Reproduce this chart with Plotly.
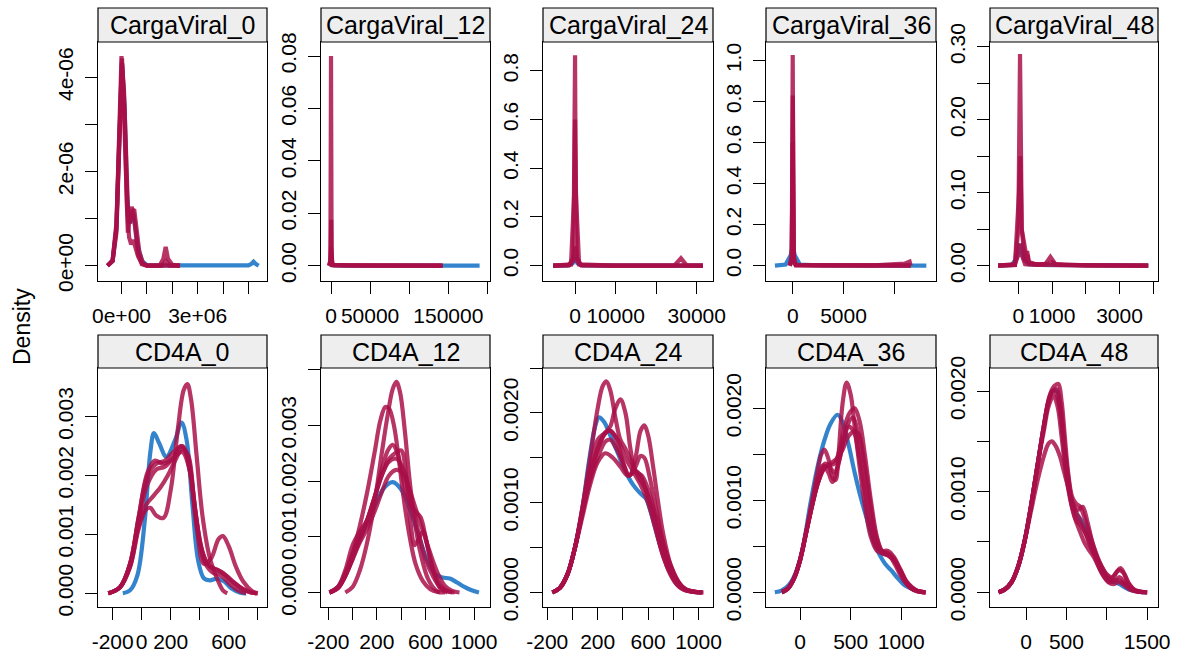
import plotly.graph_objects as go

W, H = 1178, 655

# ---------------- panel titles ----------------
panel_names = ["CargaViral_0", "CargaViral_12", "CargaViral_24", "CargaViral_36", "CargaViral_48",
               "CD4A_0", "CD4A_12", "CD4A_24", "CD4A_36", "CD4A_48"]

# ---------------- CargaViral_0 ----------------
cv0_obs_x = [-0.55e6, -0.35e6, -0.2e6, -0.1e6, 0.02e6, 0.12e6, 0.22e6, 0.32e6, 0.42e6, 0.52e6, 0.65e6, 0.8e6,
             1.0e6, 1.5e6, 2.0e6, 3.0e6, 4.0e6, 5.0e6, 5.12e6, 5.2e6, 5.28e6, 5.4e6]
cv0_obs_y = [0, 0.1e-6, 0.8e-6, 2.7e-6, 4.3e-6, 3.4e-6, 1.5e-6, 0.9e-6, 1.1e-6, 0.9e-6, 0.4e-6, 0.1e-6,
             0.01e-6, 0.005e-6, 0.005e-6, 0.005e-6, 0.005e-6, 0.005e-6, 0.04e-6, 0.085e-6, 0.04e-6, 0]
cv0_imp_x = [
    [-0.55e6, -0.35e6, -0.2e6, -0.1e6, 0.0, 0.08e6, 0.16e6, 0.25e6, 0.32e6, 0.4e6, 0.48e6, 0.56e6, 0.65e6, 0.8e6,
     1.0e6, 1.5e6, 1.65e6, 1.74e6, 1.83e6, 2.0e6, 2.3e6],
    [-0.55e6, -0.35e6, -0.2e6, -0.1e6, 0.02e6, 0.1e6, 0.18e6, 0.26e6, 0.34e6, 0.42e6, 0.5e6, 0.6e6, 0.7e6, 0.85e6,
     1.0e6, 1.6e6, 1.75e6, 1.9e6, 2.3e6],
    [-0.55e6, -0.35e6, -0.2e6, -0.08e6, 0.02e6, 0.12e6, 0.22e6, 0.3e6, 0.38e6, 0.46e6, 0.55e6, 0.65e6, 0.8e6,
     1.0e6, 2.3e6],
]
cv0_imp_y = [
    [0, 0.1e-6, 0.8e-6, 2.8e-6, 4.45e-6, 3.6e-6, 1.8e-6, 0.7e-6, 1.0e-6, 1.25e-6, 1.1e-6, 0.6e-6, 0.25e-6,
     0.03e-6, 0, 0, 0.15e-6, 0.4e-6, 0.15e-6, 0.02e-6, 0],
    [0, 0.1e-6, 0.7e-6, 2.5e-6, 4.3e-6, 3.7e-6, 2.0e-6, 1.1e-6, 0.9e-6, 1.15e-6, 1.2e-6, 0.7e-6, 0.3e-6,
     0.05e-6, 0, 0, 0.1e-6, 0, 0],
    [0, 0.12e-6, 0.9e-6, 3.0e-6, 4.4e-6, 3.2e-6, 1.2e-6, 0.6e-6, 0.45e-6, 0.55e-6, 0.4e-6, 0.2e-6, 0.05e-6, 0, 0],
]

# ---------------- CargaViral_12 ----------------
cv12_obs_x = [-2500, -1200, -500, 0, 500, 1500, 4000, 20000, 60000, 100000, 140000, 170000, 190000]
cv12_obs_y = [0, 0.0003, 0.002, 0.004, 0.002, 0.0003, 0.0001, 0.00005, 0.00002, 0.00002, 0.00002, 0.00001, 0]
cv12_imp_x = [
    [-2500, -800, -300, 0, 300, 800, 2500, 20000, 60000, 100000, 143000],
    [-2500, -800, -300, 200, 600, 1200, 3000, 30000, 80000, 143000],
    [-2500, -600, 0, 600, 2000, 50000, 140000],
]
cv12_imp_y = [
    [0, 0.002, 0.05, 0.08, 0.05, 0.002, 0.0003, 0.0001, 0.00005, 0.00002, 0],
    [0, 0.0005, 0.006, 0.0175, 0.006, 0.0005, 0.0002, 0.0001, 0.00003, 0],
    [0, 0.002, 0.007, 0.002, 0.0002, 0.00003, 0],
]

# ---------------- CargaViral_24 ----------------
cv24_obs_x = [-5400, -2000, -600, 0, 600, 2000, 8000, 16000, 24000, 26000, 28000, 31500]
cv24_obs_y = [0, 0.001, 0.01, 0.03, 0.01, 0.001, 0.0005, 0.0005, 0.0005, 0.002, 0.0005, 0]
cv24_imp_x = [
    [-5400, -1500, -400, -100, 0, 100, 400, 1500, 8000, 16000, 24000, 31500],
    [-5400, -1500, -500, 0, 500, 1500, 8000, 16000, 24500, 26100, 27500, 31500],
    [-5400, -1000, -200, 0, 200, 1000, 10000, 20000, 31500],
]
cv24_imp_y = [
    [0, 0.001, 0.02, 0.5, 0.864, 0.5, 0.02, 0.001, 0.0005, 0.0005, 0.0005, 0],
    [0, 0.002, 0.03, 0.078, 0.03, 0.002, 0.0005, 0.0005, 0.001, 0.03, 0.001, 0],
    [0, 0.005, 0.3, 0.6, 0.3, 0.005, 0.0005, 0.0005, 0],
]

# ---------------- CargaViral_36 ----------------
cv36_obs_x = [-1750, -700, -200, 0, 200, 700, 3000, 6000, 9000, 12000, 13150]
cv36_obs_y = [0, 0.005, 0.05, 0.1, 0.05, 0.005, 0.0005, 0.0005, 0.0005, 0.003, 0]
cv36_imp_x = [
    [-300, -100, -40, 0, 40, 100, 300, 2000, 5000, 8000, 11000, 11500, 11600],
    [-300, -100, -40, 10, 60, 120, 300, 3000, 7000, 11000, 11600],
    [-300, -100, 0, 100, 300, 3000, 8000, 11600],
]
cv36_imp_y = [
    [0, 0.02, 0.6, 1.028, 0.6, 0.02, 0.002, 0.001, 0.001, 0.001, 0.01, 0.02, 0],
    [0, 0.02, 0.4, 0.83, 0.4, 0.02, 0.002, 0.001, 0.001, 0.005, 0],
    [0, 0.05, 0.6, 0.05, 0.002, 0.001, 0.001, 0],
]

# ---------------- CargaViral_48 ----------------
cv48_obs_x = [-600, -200, -50, 50, 150, 300, 600, 1000, 1500, 2000, 2500, 3000, 3500, 3850]
cv48_obs_y = [0, 0.001, 0.01, 0.03, 0.01, 0.002, 0.001, 0.001, 0.0005, 0.0005, 0.0005, 0.0005, 0.0003, 0]
cv48_imp_x = [
    [-600, -100, 0, 30, 50, 70, 100, 200, 260, 320, 500, 800, 950, 1100, 1300, 2000, 3000, 3850],
    [-600, -100, 0, 50, 100, 200, 500, 900, 1000, 1100, 2000, 3000, 3850],
    [-600, -100, 20, 60, 100, 250, 270, 300, 600, 1200, 2500, 3850],
]
cv48_imp_y = [
    [0, 0.001, 0.05, 0.2, 0.29, 0.2, 0.05, 0.005, 0.02, 0.004, 0.002, 0.002, 0.012, 0.002, 0.001, 0.0005, 0.0005, 0],
    [0, 0.002, 0.015, 0.03, 0.015, 0.002, 0.001, 0.003, 0.005, 0.002, 0.0005, 0.0005, 0],
    [0, 0.001, 0.1, 0.15, 0.05, 0.01, 0.015, 0.005, 0.001, 0.0005, 0.0005, 0],
]

# ---------------- CD4A_0 ----------------
cd0_obs_x = [-130, -80, -30, 20, 60, 85, 120, 170, 230, 275, 310, 350, 390, 430, 470, 520, 570, 620, 680, 720]
cd0_obs_y = [0, 0.00005, 0.0003, 0.0012, 0.0024, 0.00272, 0.00255, 0.00232, 0.0026, 0.0029, 0.0026, 0.0015,
             0.00055, 0.00025, 0.00022, 0.00025, 0.0002, 0.00008, 0.00001, 0]
cd0_imp_x = [
    [-230, -150, -80, -20, 30, 60, 100, 150, 200, 250, 290, 315, 340, 380, 420, 470, 520, 560, 590],
    [-230, -150, -80, -20, 40, 100, 160, 220, 280, 330, 380, 430, 480, 530, 560, 600, 650, 700, 760, 800],
    [-230, -150, -80, -20, 40, 90, 150, 220, 270, 320, 370, 420, 470, 520, 580, 640, 700, 760, 800],
    [-230, -150, -80, -20, 30, 80, 130, 180, 230, 280, 320, 360, 400, 450, 500, 560, 620, 680, 740, 790],
    [-230, -150, -80, -20, 40, 100, 160, 220, 280, 330, 380, 430, 490, 550, 610, 670, 720],
]
cd0_imp_y = [
    [0, 0.0001, 0.00045, 0.0011, 0.00142, 0.00145, 0.00132, 0.00128, 0.00175, 0.0028, 0.00345, 0.00355, 0.0033,
     0.0023, 0.0013, 0.0006, 0.00025, 0.00005, 0],
    [0, 0.0001, 0.0005, 0.0013, 0.002, 0.0022, 0.00225, 0.0024, 0.0025, 0.0021, 0.0011, 0.0005, 0.0006, 0.00092,
     0.00097, 0.0008, 0.00045, 0.0002, 0.00004, 0],
    [0, 0.0001, 0.0005, 0.0013, 0.00205, 0.00225, 0.0022, 0.0023, 0.0025, 0.0023, 0.0014, 0.0007, 0.00045, 0.0004,
     0.0003, 0.00017, 0.00007, 0.00001, 0],
    [0, 0.0001, 0.00045, 0.00115, 0.0015, 0.00165, 0.0018, 0.002, 0.00225, 0.00245, 0.00235, 0.0016, 0.0009,
     0.0005, 0.00042, 0.00035, 0.00022, 0.0001, 0.00002, 0],
    [0, 0.0001, 0.0005, 0.00125, 0.00185, 0.0021, 0.00215, 0.0023, 0.0024, 0.0021, 0.0012, 0.00055, 0.00035,
     0.0003, 0.00015, 0.00004, 0],
]

# ---------------- CD4A_12 ----------------
cd12_obs_x = [-190, -120, -50, 20, 100, 180, 260, 330, 400, 470, 540, 610, 680, 740, 800, 860, 920, 980, 1040]
cd12_obs_y = [0, 0.0001, 0.00035, 0.00075, 0.00115, 0.00155, 0.00188, 0.00198, 0.00185, 0.0015, 0.00105, 0.0006,
              0.00033, 0.00027, 0.00025, 0.00018, 0.0001, 0.00004, 0]
cd12_imp_x = [
    [-60, 0, 60, 120, 180, 240, 290, 330, 360, 390, 430, 470, 510, 560, 620, 680, 720],
    [-190, -120, -60, 0, 60, 120, 180, 230, 270, 300, 340, 380, 420, 470, 520, 580, 640, 700, 760],
    [-190, -120, -60, 0, 60, 120, 180, 240, 290, 330, 370, 420, 470, 520, 560, 600, 650, 700, 760, 820],
    [-190, -120, -60, 0, 60, 120, 180, 240, 300, 350, 400, 440, 480, 510, 540, 580, 620, 670, 720, 780],
    [-190, -120, -60, 0, 60, 120, 180, 240, 300, 360, 420, 480, 540, 600, 660, 720, 780, 840],
    [-190, -120, -60, 0, 60, 120, 180, 240, 300, 360, 410, 460, 520, 580, 640, 700, 760, 820, 880],
]
cd12_imp_y = [
    [0, 0.0001, 0.0004, 0.0009, 0.0016, 0.0025, 0.0032, 0.00365, 0.00378, 0.0036, 0.0029, 0.002, 0.0013, 0.0007,
     0.00025, 0.00005, 0],
    [0, 0.00008, 0.0003, 0.0007, 0.0012, 0.0018, 0.0025, 0.0031, 0.00333, 0.0033, 0.003, 0.0024, 0.0017, 0.001,
     0.0005, 0.0002, 0.00006, 0.00001, 0],
    [0, 0.0001, 0.0004, 0.00085, 0.0011, 0.0013, 0.0017, 0.0022, 0.00255, 0.00265, 0.0025, 0.002, 0.0016, 0.00145,
     0.00135, 0.001, 0.0005, 0.0002, 0.00005, 0],
    [0, 0.00008, 0.0003, 0.0006, 0.00095, 0.0013, 0.0017, 0.0021, 0.0024, 0.0025, 0.00255, 0.0021, 0.0012, 0.00085,
     0.00095, 0.0011, 0.0008, 0.00035, 0.00008, 0],
    [0, 0.0001, 0.00035, 0.0007, 0.001, 0.0013, 0.0017, 0.0021, 0.00235, 0.0024, 0.0022, 0.0017, 0.0011, 0.0006,
     0.0003, 0.0001, 0.00002, 0],
    [0, 0.00008, 0.0003, 0.0006, 0.0009, 0.00115, 0.00145, 0.0018, 0.0021, 0.0022, 0.00215, 0.0019, 0.0015, 0.0011,
     0.0007, 0.00035, 0.00012, 0.00003, 0],
]

# ---------------- CD4A_24 ----------------
cd24_obs_x = [-160, -100, -40, 20, 80, 130, 180, 210, 250, 300, 360, 420, 480, 540, 580, 620, 680, 740, 800, 870,
              940, 1000, 1030]
cd24_obs_y = [0, 0.00005, 0.0002, 0.0005, 0.00095, 0.00145, 0.00185, 0.00195, 0.0019, 0.00175, 0.00155, 0.00135,
              0.0012, 0.0011, 0.00105, 0.0009, 0.0006, 0.00035, 0.00017, 0.00006, 0.00001, 0, 0]
cd24_imp_x = [
    [-160, -100, -40, 20, 80, 140, 200, 240, 270, 300, 340, 380, 420, 470, 520, 580, 640, 700, 760, 820, 880, 940,
     1000, 1040],
    [-160, -100, -40, 20, 80, 140, 200, 260, 300, 340, 380, 420, 460, 500, 550, 600, 660, 720, 780, 840, 900, 960,
     1020],
    [-160, -100, -40, 20, 80, 140, 200, 260, 300, 350, 400, 450, 500, 540, 570, 600, 640, 680, 720, 780, 840, 900,
     960, 1030],
    [-160, -100, -40, 20, 80, 140, 200, 260, 300, 350, 400, 450, 500, 540, 570, 610, 660, 720, 780, 840, 900, 960,
     1030],
    [-160, -100, -40, 20, 80, 140, 200, 260, 320, 380, 440, 500, 540, 580, 640, 700, 760, 820, 880, 940, 1000],
    [-160, -100, -40, 20, 80, 140, 200, 260, 300, 360, 420, 480, 540, 600, 660, 720, 780, 840, 900, 960, 1030],
]
cd24_imp_y = [
    [0, 0.00005, 0.0002, 0.0005, 0.00095, 0.0015, 0.00205, 0.0023, 0.00235, 0.00225, 0.00195, 0.0017, 0.0016,
     0.00145, 0.0013, 0.00115, 0.0009, 0.0006, 0.00035, 0.00015, 0.00005, 0.00001, 0, 0],
    [0, 0.00005, 0.0002, 0.0005, 0.00095, 0.0014, 0.0017, 0.00178, 0.00185, 0.00205, 0.00215, 0.002, 0.0016,
     0.00135, 0.0013, 0.00115, 0.00085, 0.00055, 0.0003, 0.00012, 0.00003, 0.00001, 0],
    [0, 0.00005, 0.0002, 0.0005, 0.0009, 0.0013, 0.0016, 0.00178, 0.0018, 0.0017, 0.00145, 0.0013, 0.0015,
     0.0018, 0.00186, 0.00175, 0.0014, 0.001, 0.00065, 0.0003, 0.00012, 0.00003, 0.00001, 0],
    [0, 0.00005, 0.0002, 0.0005, 0.0009, 0.00125, 0.0015, 0.00168, 0.0017, 0.0016, 0.00145, 0.0013, 0.0014,
     0.00152, 0.0015, 0.0013, 0.00095, 0.00055, 0.00025, 0.0001, 0.00003, 0.00001, 0],
    [0, 0.00005, 0.0002, 0.0005, 0.00085, 0.0012, 0.00145, 0.00155, 0.0015, 0.0014, 0.0013, 0.00135, 0.0013,
     0.00115, 0.00085, 0.0005, 0.00025, 0.0001, 0.00003, 0.00001, 0],
    [0, 0.00005, 0.0002, 0.0005, 0.0009, 0.0013, 0.0016, 0.00177, 0.0018, 0.0017, 0.0015, 0.00135, 0.0012, 0.001,
     0.0007, 0.0004, 0.0002, 0.00007, 0.00002, 0.00001, 0],
]

# ---------------- CD4A_36 ----------------
cd36_obs_x = [-250, -180, -110, -40, 30, 100, 170, 240, 300, 370, 420, 480, 540, 600, 660, 720, 780, 840, 900,
              960, 1020, 1080, 1140, 1200, 1240]
cd36_obs_y = [0, 0.00002, 0.00008, 0.00022, 0.0005, 0.00095, 0.00135, 0.00165, 0.00183, 0.00193, 0.00185, 0.0016,
              0.0013, 0.00103, 0.0008, 0.00057, 0.00042, 0.00031, 0.00024, 0.00016, 0.00009, 0.00005, 0.00002,
              0.000005, 0]
cd36_imp_x = [
    [-180, -120, -60, 0, 60, 120, 170, 210, 240, 280, 320, 350, 380, 420, 460, 500, 540, 590, 640, 700, 760, 820,
     880, 940, 1000, 1060, 1120, 1180, 1240],
    [-180, -120, -60, 0, 60, 120, 180, 240, 290, 340, 390, 440, 490, 540, 590, 640, 700, 760, 820, 880, 940, 1000,
     1060, 1120, 1180, 1240],
    [-180, -120, -60, 0, 60, 120, 180, 250, 300, 340, 390, 440, 480, 530, 580, 630, 690, 750, 810, 870, 930, 990,
     1050, 1110, 1170, 1240],
    [-180, -120, -60, 0, 60, 120, 180, 240, 300, 360, 420, 480, 540, 580, 630, 690, 750, 810, 870, 930, 990, 1050,
     1110, 1170, 1240],
    [-180, -120, -60, 0, 60, 120, 180, 230, 280, 320, 370, 420, 470, 520, 570, 620, 680, 740, 800, 860, 920, 980,
     1040, 1100, 1160, 1240],
]
cd36_imp_y = [
    [0, 0.00004, 0.00015, 0.00035, 0.00065, 0.001, 0.0013, 0.0015, 0.00155, 0.00145, 0.00125, 0.00122, 0.0015,
     0.00205, 0.00228, 0.00215, 0.0018, 0.00135, 0.00095, 0.0006, 0.00045, 0.00042, 0.0004, 0.0003, 0.00017,
     0.00008, 0.00003, 0.00001, 0],
    [0, 0.00004, 0.00015, 0.00035, 0.00065, 0.00095, 0.0012, 0.00135, 0.00138, 0.0014, 0.00155, 0.0018, 0.00195,
     0.002, 0.00185, 0.0015, 0.001, 0.0006, 0.00042, 0.0004, 0.00033, 0.0002, 0.00009, 0.00003, 0.00001, 0],
    [0, 0.00004, 0.00015, 0.00035, 0.00065, 0.00095, 0.0012, 0.0014, 0.00135, 0.0013, 0.00145, 0.0017, 0.0018,
     0.00175, 0.0015, 0.00115, 0.00075, 0.0005, 0.00045, 0.00045, 0.00038, 0.00025, 0.00012, 0.00005, 0.00001, 0],
    [0, 0.00004, 0.00015, 0.00035, 0.00065, 0.00095, 0.0012, 0.00135, 0.0014, 0.00145, 0.00155, 0.0017, 0.00175,
     0.00172, 0.00145, 0.001, 0.00062, 0.00045, 0.0004, 0.00035, 0.00025, 0.00012, 0.00005, 0.00001, 0],
    [0, 0.00004, 0.00015, 0.00035, 0.00065, 0.00095, 0.00125, 0.00138, 0.0013, 0.0012, 0.00135, 0.0016, 0.00182,
     0.0019, 0.00175, 0.0014, 0.00095, 0.0006, 0.00045, 0.00043, 0.00038, 0.00025, 0.00012, 0.00004, 0.00001, 0],
]

# ---------------- CD4A_48 ----------------
cd48_obs_x = [-340, -260, -180, -100, -20, 60, 140, 220, 280, 330, 380, 420, 460, 510, 560, 620, 680, 740, 800, 860,
              920, 980, 1040, 1100, 1160, 1220, 1300, 1400, 1490]
cd48_obs_y = [0, 0.00003, 0.0001, 0.00025, 0.0005, 0.00085, 0.00125, 0.00165, 0.0019, 0.002, 0.002, 0.00185,
              0.0015, 0.00115, 0.0009, 0.00078, 0.00072, 0.00062, 0.0005, 0.00038, 0.00026, 0.00017, 0.00012,
              0.0001, 0.00008, 0.00005, 0.00002, 0.000005, 0]
cd48_imp_x = [
    [-340, -260, -180, -100, -20, 60, 140, 220, 290, 350, 400, 440, 480, 520, 570, 620, 670, 720, 780, 840, 900, 960,
     1020, 1080, 1140, 1200, 1260, 1330, 1420, 1500],
    [-340, -260, -180, -100, -20, 60, 140, 220, 280, 320, 370, 420, 470, 520, 570, 620, 670, 720, 780, 840, 900, 960,
     1020, 1080, 1140, 1200, 1260, 1330, 1420, 1500],
    [-340, -260, -180, -100, -20, 60, 140, 220, 280, 330, 370, 420, 470, 520, 570, 620, 680, 740, 800, 860, 920, 980,
     1040, 1100, 1160, 1220, 1300, 1400],
    [-340, -260, -180, -100, -20, 60, 140, 220, 280, 330, 380, 430, 480, 530, 580, 640, 700, 760, 820, 880, 940, 1000,
     1060, 1120, 1170, 1220, 1280, 1350, 1430, 1500],
    [-340, -260, -180, -100, -20, 60, 140, 220, 280, 340, 390, 440, 490, 540, 600, 660, 720, 780, 840, 900, 960, 1020,
     1080, 1140, 1200, 1280, 1360, 1450],
]
cd48_imp_y = [
    [0, 0.00003, 0.0001, 0.00025, 0.0005, 0.00085, 0.00125, 0.00165, 0.00195, 0.00205, 0.00207, 0.0019, 0.00155,
     0.0012, 0.00095, 0.00088, 0.00085, 0.00075, 0.0006, 0.00045, 0.00032, 0.00022, 0.00015, 0.00015, 0.00022,
     0.0002, 0.0001, 0.00003, 0.000005, 0],
    [0, 0.00003, 0.0001, 0.00025, 0.0005, 0.0008, 0.0011, 0.00135, 0.00148, 0.0015, 0.00145, 0.00135, 0.0012,
     0.00105, 0.0009, 0.0008, 0.00072, 0.00062, 0.0005, 0.0004, 0.0003, 0.0002, 0.00014, 0.00012, 0.00012, 0.0001,
     0.00006, 0.00002, 0.000005, 0],
    [0, 0.00003, 0.0001, 0.00025, 0.0005, 0.00085, 0.00125, 0.00165, 0.0019, 0.002, 0.00198, 0.0018, 0.00145,
     0.0011, 0.00085, 0.00072, 0.00066, 0.00058, 0.00045, 0.00034, 0.00022, 0.00014, 0.0001, 0.00012, 0.00015,
     0.0001, 0.00003, 0],
    [0, 0.00003, 0.0001, 0.00025, 0.0005, 0.00085, 0.00125, 0.00165, 0.0019, 0.002, 0.00202, 0.00185, 0.00145,
     0.0011, 0.00088, 0.00082, 0.00085, 0.0007, 0.0005, 0.00035, 0.00025, 0.00018, 0.00015, 0.0002, 0.00024,
     0.00018, 0.00008, 0.00002, 0.000005, 0],
    [0, 0.00003, 0.0001, 0.00025, 0.0005, 0.00085, 0.00125, 0.0016, 0.00185, 0.00195, 0.00185, 0.00155, 0.0012,
     0.00095, 0.00075, 0.00062, 0.0005, 0.00042, 0.00035, 0.00025, 0.00016, 0.0001, 0.00008, 0.0001, 0.00008,
     0.00003, 0.00001, 0],
]

# ---------------- tick values / labels ----------------
x_tickvals = [
    [0, 1e6, 2e6, 3e6, 4e6, 5e6],
    [0, 50000, 100000, 150000, 200000],
    [0, 10000, 20000, 30000],
    [0, 5000, 10000],
    [0, 1000, 2000, 3000, 4000],
    [-200, 0, 200, 400, 600, 800],
    [-200, 0, 200, 400, 600, 800, 1000],
    [-200, 0, 200, 400, 600, 800, 1000],
    [0, 500, 1000],
    [0, 500, 1000, 1500],
]
x_ticktext = [
    ["0e+00", "", "", "3e+06", "", ""],
    ["0", "50000", "", "150000", ""],
    ["0", "10000", "", "30000"],
    ["0", "5000", ""],
    ["0", "1000", "", "3000", ""],
    ["-200", "0", "200", "", "600", ""],
    ["-200", "", "200", "", "600", "", "1000"],
    ["-200", "", "200", "", "600", "", "1000"],
    ["0", "500", "1000"],
    ["0", "500", "", "1500"],
]
y_tickvals = [
    [0, 1e-6, 2e-6, 3e-6, 4e-6],
    [0, 0.02, 0.04, 0.06, 0.08],
    [0, 0.2, 0.4, 0.6, 0.8],
    [0, 0.2, 0.4, 0.6, 0.8, 1.0],
    [0, 0.05, 0.10, 0.15, 0.20, 0.25, 0.30],
    [0, 0.001, 0.002, 0.003],
    [0, 0.001, 0.002, 0.003, 0.004],
    [0, 0.0005, 0.001, 0.0015, 0.002, 0.0025],
    [0, 0.0005, 0.001, 0.0015, 0.002],
    [0, 0.0005, 0.001, 0.0015, 0.002],
]
y_ticktext = [
    ["0e+00", "", "2e-06", "", "4e-06"],
    ["0.00", "0.02", "0.04", "0.06", "0.08"],
    ["0.0", "0.2", "0.4", "0.6", "0.8"],
    ["0.0", "0.2", "0.4", "0.6", "0.8", "1.0"],
    ["0.00", "", "0.10", "", "0.20", "", "0.30"],
    ["0.000", "0.001", "0.002", "0.003"],
    ["0.000", "0.001", "0.002", "0.003", ""],
    ["0.0000", "", "0.0010", "", "0.0020", ""],
    ["0.0000", "", "0.0010", "", "0.0020"],
    ["0.0000", "", "0.0010", "", "0.0020"],
]

# ---------------- assemble ----------------
obs_x = [cv0_obs_x, cv12_obs_x, cv24_obs_x, cv36_obs_x, cv48_obs_x, cd0_obs_x, cd12_obs_x, cd24_obs_x, cd36_obs_x, cd48_obs_x]
obs_y = [cv0_obs_y, cv12_obs_y, cv24_obs_y, cv36_obs_y, cv48_obs_y, cd0_obs_y, cd12_obs_y, cd24_obs_y, cd36_obs_y, cd48_obs_y]
imp_x = [cv0_imp_x, cv12_imp_x, cv24_imp_x, cv36_imp_x, cv48_imp_x, cd0_imp_x, cd12_imp_x, cd24_imp_x, cd36_imp_x, cd48_imp_x]
imp_y = [cv0_imp_y, cv12_imp_y, cv24_imp_y, cv36_imp_y, cv48_imp_y, cd0_imp_y, cd12_imp_y, cd24_imp_y, cd36_imp_y, cd48_imp_y]

# layout geometry (pixels)
col_px = [(98, 267), (321, 490), (543, 713), (766, 936), (990, 1158)]
row_px = [(42, 281), (368, 607)]       # plot area top/bottom
strip_px = [(8, 42), (335, 368)]       # strip top/bottom

x_ranges = [(-0.925e6, 5.73e6), (-12800, 203300), (-7900, 34000), (-2630, 14100), (-840, 4140),
            (-301, 864), (-260, 1131), (-234, 1115), (-337, 1344), (-446, 1634)]
y_ranges = [(-0.325e-6, 4.749e-6), (-0.00584, 0.08535), (-0.063, 0.918), (-0.075, 1.091), (-0.021, 0.3064),
            (-0.000233, 0.003825), (-0.00026, 0.00403), (-0.000163, 0.0025), (-0.00016, 0.002438),
            (-0.000146, 0.002229)]

BLUE = "rgba(0,100,192,0.8)"
RED = "rgba(168,14,72,0.84)"
FONT = "Liberation Sans, Arial, Helvetica, sans-serif"
LW = 4.2

fig = go.Figure()
layout = dict(
    width=W, height=H, margin=dict(l=0, r=0, t=0, b=0, pad=0), autosize=False,
    paper_bgcolor="white", plot_bgcolor="white", showlegend=False,
    font=dict(family=FONT, color="black"),
)
shapes, annotations = [], []

for i in range(10):
    r, c = divmod(i, 5)
    n = i + 1
    xa = "x" if n == 1 else f"x{n}"
    ya = "y" if n == 1 else f"y{n}"
    x0, x1 = col_px[c]
    t, b = row_px[r]
    shape = "linear" if r == 0 else "spline"
    fig.add_trace(go.Scatter(x=obs_x[i], y=obs_y[i], mode="lines", xaxis=xa, yaxis=ya,
                             line=dict(color=BLUE, width=LW, shape=shape), hoverinfo="skip"))
    for xs, ys in zip(imp_x[i], imp_y[i]):
        fig.add_trace(go.Scatter(x=xs, y=ys, mode="lines", xaxis=xa, yaxis=ya,
                                 line=dict(color=RED, width=LW, shape=shape), hoverinfo="skip"))
    common = dict(showline=True, mirror=True, linecolor="black", linewidth=1.2, showgrid=False, zeroline=False,
                  ticks="outside", ticklen=12, tickwidth=1.2, tickcolor="black", tickmode="array",
                  automargin=False, tickfont=dict(family=FONT, size=21, color="black"), fixedrange=True)
    layout["xaxis" if n == 1 else f"xaxis{n}"] = dict(
        domain=[x0 / W, x1 / W], range=list(x_ranges[i]), anchor=ya,
        tickvals=x_tickvals[i], ticktext=x_ticktext[i], ticklabelstandoff=4, **common)
    layout["yaxis" if n == 1 else f"yaxis{n}"] = dict(
        domain=[1 - b / H, 1 - t / H], range=list(y_ranges[i]), anchor=xa,
        tickvals=y_tickvals[i], ticktext=y_ticktext[i], tickangle=-90, ticklabelstandoff=4, **common)
    st, sb = strip_px[r]
    shapes.append(dict(type="rect", xref="paper", yref="paper", x0=x0 / W, x1=x1 / W,
                       y0=1 - sb / H, y1=1 - st / H, fillcolor="#EEEEEE",
                       line=dict(color="black", width=1.2), layer="above"))
    annotations.append(dict(text=panel_names[i], xref="paper", yref="paper", x=(x0 + x1) / 2 / W,
                            y=1 - (st + sb) / 2 / H, xanchor="center", yanchor="middle", showarrow=False,
                            font=dict(family=FONT, size=25, color="black")))

annotations.append(dict(text="Density", xref="paper", yref="paper", x=22 / W, y=1 - 327 / H,
                        xanchor="center", yanchor="middle", showarrow=False, textangle=-90,
                        font=dict(family=FONT, size=23, color="black")))
layout["shapes"] = shapes
layout["annotations"] = annotations
fig.update_layout(**layout)
fig.write_html("out.html", config={"displayModeBar": False},
               post_script="document.body.style.margin='0';")
